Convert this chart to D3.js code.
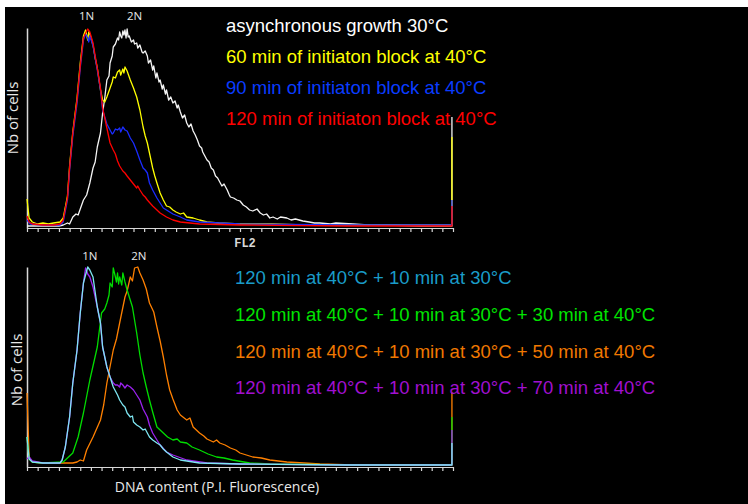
<!DOCTYPE html>
<html>
<head>
<meta charset="utf-8">
<script src="https://cdn.jsdelivr.net/npm/d3@7"></script>
<style>
  body { margin: 0; background: #fff; }
  svg { display: block; }
</style>
</head>
<body>
<div id="chart"></div>
<script>
// histogram data: [FL2 channel, nb of cells]
const asyncGrowth = [[0,2],[30,2],[34,3],[38,5],[40,4],[43,11],[46,14],[48,13],[53,28],[56,33],[59,45],[62,60],[64,66],[66,81],[69,95],[71,115],[73,130],[75,148],[77,152],[78,165],[80,172],[81,181],[83,184],[85,190],[86,188],[87,196],[88,192],[89,190],[90,197],[91,193],[92,198],[93,190],[94,199],[95,191],[96,192],[98,186],[100,188],[101,184],[103,185],[104,180],[106,183],[108,176],[109,175],[111,177],[113,172],[114,165],[116,168],[118,158],[119,162],[121,150],[122,155],[124,146],[125,148],[127,139],[128,143],[130,134],[131,138],[133,128],[135,131],[137,125],[139,127],[141,120],[142,123],[144,116],[146,110],[148,113],[150,105],[152,101],[154,104],[156,97],[158,93],[160,88],[162,82],[164,80],[165,76],[167,72],[169,68],[171,66],[173,60],[175,58],[177,52],[179,50],[181,46],[183,42],[185,44],[188,38],[190,33],[191,31],[194,30],[197,28],[200,27],[203,23],[206,21],[209,18],[212,17],[216,19],[219,15],[222,13],[225,14],[228,10],[231,11],[235,9],[238,11],[244,10],[248,8],[252,9],[259,7],[265,6],[270,5],[275,5],[285,4],[290,5],[306,4],[320,3],[338,3],[369,2],[399,2],[399,111]];
const block60 = [[0,29],[2,10],[5,6],[10,4],[15,5],[20,4],[25,5],[31,6],[34,10],[38,32],[40,62],[43,96],[47,130],[50,165],[53,192],[55,198],[56,193],[57,188],[58,196],[59,194],[62,183],[64,170],[66,160],[69,138],[71,128],[73,126],[75,131],[78,140],[80,146],[81,151],[83,150],[85,156],[87,158],[88,153],[90,159],[91,155],[92,161],[94,157],[97,148],[100,140],[103,131],[106,118],[109,101],[111,92],[113,85],[115,75],[118,60],[120,52],[122,45],[125,35],[128,28],[131,22],[134,21],[137,18],[140,16],[144,14],[147,15],[150,11],[156,10],[162,8],[169,6],[180,5],[200,4],[230,4],[260,3],[300,3],[399,3],[399,91]];
const block90 = [[0,8],[3,4],[15,3],[31,3],[34,6],[38,28],[40,58],[43,92],[47,125],[50,160],[53,188],[55,194],[57,190],[58,186],[59,192],[62,182],[66,158],[69,138],[71,118],[75,104],[78,98],[80,94],[81,95],[83,99],[85,98],[87,100],[88,96],[90,101],[92,98],[94,97],[97,90],[100,85],[103,77],[106,68],[109,60],[111,58],[113,55],[115,45],[118,38],[122,30],[125,25],[128,20],[131,18],[134,16],[137,14],[144,11],[150,8],[162,6],[200,4],[300,3],[399,3],[399,28]];
const block120 = [[0,12],[2,6],[5,4],[15,3],[25,3],[31,4],[34,8],[38,30],[40,60],[43,95],[47,128],[50,162],[53,190],[55,195],[57,199],[59,196],[62,185],[66,160],[69,140],[71,120],[75,100],[78,85],[81,78],[83,74],[85,67],[87,62],[90,57],[92,55],[94,52],[97,48],[100,44],[103,40],[104,42],[106,38],[109,33],[111,31],[113,28],[118,22],[122,18],[125,15],[131,11],[137,8],[144,6],[162,4],[200,3],[300,2],[399,2],[399,22]];

const release10 = [[0,30],[2,8],[5,5],[15,4],[31,4],[33,7],[36,20],[40,50],[43,84],[47,117],[50,154],[53,184],[56,196],[57,200],[59,197],[62,190],[66,160],[69,144],[71,120],[75,100],[78,90],[81,80],[85,72],[87,67],[90,62],[92,60],[94,54],[97,50],[99,51],[100,45],[103,42],[106,40],[109,37],[111,38],[113,34],[115,30],[118,27],[122,24],[125,22],[128,18],[131,15],[137,10],[144,7],[162,4],[200,3],[300,2],[399,2],[399,24]];
const release30 = [[0,30],[2,8],[5,5],[15,4],[34,5],[43,14],[48,30],[53,54],[59,87],[66,120],[70,154],[73,158],[75,164],[77,172],[78,184],[80,180],[81,199],[83,190],[84,185],[85,194],[86,183],[87,190],[89,182],[90,194],[92,185],[94,177],[99,160],[103,134],[106,112],[109,94],[112,80],[115,67],[118,55],[122,40],[125,37],[128,34],[132,30],[137,27],[141,28],[144,25],[150,24],[155,20],[162,17],[170,13],[178,10],[185,9],[193,7],[209,4],[228,3],[300,2],[399,2],[399,50]];
const release50 = [[0,74],[2,10],[5,5],[15,4],[43,4],[47,5],[50,7],[53,6],[56,17],[62,30],[69,47],[72,62],[75,84],[81,117],[84,128],[87,144],[92,170],[94,176],[97,190],[99,186],[101,199],[104,200],[106,194],[109,187],[112,178],[115,164],[119,155],[122,140],[125,126],[128,110],[131,92],[134,77],[137,68],[141,57],[144,52],[150,47],[153,49],[156,40],[162,34],[166,31],[169,28],[175,25],[178,27],[181,24],[186,22],[191,19],[196,17],[200,14],[206,12],[212,10],[220,9],[228,7],[236,6],[244,5],[260,4],[275,3],[306,2],[399,2],[399,75]];
const release70 = [[0,8],[2,10],[5,6],[15,4],[31,4],[33,7],[36,20],[40,50],[43,84],[47,117],[50,154],[53,184],[55,199],[57,193],[59,190],[62,180],[66,160],[69,144],[71,120],[75,100],[78,90],[81,84],[83,82],[85,82],[87,80],[88,84],[90,82],[92,79],[94,82],[97,80],[100,77],[103,72],[106,67],[109,58],[113,50],[115,42],[118,34],[122,27],[125,22],[131,15],[137,12],[150,7],[169,4],[200,3],[300,2],[399,2],[399,37]];

const topLabels = ["asynchronous growth 30°C", "60 min of initiaton block at 40°C", "90 min of initiaton block at 40°C", "120 min of initiaton block at 40°C"];
const bottomLabels = ["120 min at 40°C + 10 min at 30°C", "120 min at 40°C + 10 min at 30°C + 30 min at 40°C", "120 min at 40°C + 10 min at 30°C + 50 min at 40°C", "120 min at 40°C + 10 min at 30°C + 70 min at 40°C"];
const ploidyLabels = ["1N", "2N"];
const ploidyTop = [56, 101];
const ploidyBottom = [59, 105];

const width = 748, height = 504;

const svg = d3.select("#chart").append("svg")
    .attr("width", width)
    .attr("height", height);

svg.append("rect")
    .attr("x", 5).attr("y", 7)
    .attr("width", width - 5).attr("height", height - 7)
    .attr("fill", "#000");

const x = d3.scaleLinear().domain([0, 400]).range([27, 453]);

function drawPanel(yTop, yBase, series, lineColors, labels, textColors, legendX, legendY, ploidyX, ploidyY, yLabelPos, showFl2) {
    const y = d3.scaleLinear().domain([0, 200]).range([yBase, yTop]);

    svg.append("g")
        .attr("transform", `translate(0,${yBase})`)
        .call(d3.axisBottom(x).tickValues(d3.range(0, 401, 10)).tickFormat("").tickSize(4).tickSizeOuter(0))
        .call(g => g.selectAll("path, line").attr("stroke", "#d8d8d8").attr("stroke-width", 1.2));

    svg.append("g")
        .attr("transform", `translate(${x(0)},0)`)
        .call(d3.axisLeft(y).tickValues([]).tickSizeOuter(0))
        .call(g => g.select("path").attr("stroke", "#d8d8d8").attr("stroke-width", 1.5));

    const line = d3.line()
        .x(d => x(d[0]))
        .y(d => y(d[1]));

    series.forEach((s, i) => {
        svg.append("path")
            .datum(s)
            .attr("d", line)
            .attr("fill", "none")
            .attr("stroke", lineColors[i])
            .attr("stroke-width", 1.3)
            .attr("stroke-linejoin", "round");
    });

    labels.forEach((t, i) => {
        svg.append("text")
            .attr("x", legendX)
            .attr("y", legendY[i])
            .style("font-family", "Liberation Sans, Arial, sans-serif")
            .style("font-size", "18.5px")
            .style("fill", textColors[i])
            .text(t);
    });

    ploidyLabels.forEach((t, i) => {
        svg.append("text")
            .attr("x", x(ploidyX[i]))
            .attr("y", ploidyY)
            .attr("text-anchor", "middle")
            .style("font-family", "Open Sans, sans-serif")
            .style("font-size", "11.5px")
            .style("fill", "#e8e8e8")
            .text(t);
    });

    svg.append("text")
        .attr("transform", `translate(${yLabelPos[0]},${yLabelPos[1]}) rotate(-90)`)
        .attr("text-anchor", "middle")
        .style("font-family", "Open Sans, sans-serif")
        .style("font-size", "15px")
        .style("fill", "#e8e8e8")
        .text("Nb of cells");

    if (showFl2) {
        svg.append("text")
            .attr("x", 245)
            .attr("y", yBase + 19)
            .attr("text-anchor", "middle")
            .style("font-family", "Liberation Mono, monospace")
            .style("font-size", "12px")
            .style("font-weight", "bold")
            .style("fill", "#d8d8d8")
            .text("FL2");
    }
}

drawPanel(28, 228,
    [asyncGrowth, block60, block90, block120],
    ["#f4f4f4", "#ffff00", "#1a2cff", "#ff0000"],
    topLabels,
    ["#ffffff", "#ffff00", "#0a3cff", "#ff0000"],
    226, [32, 63, 94, 124.5],
    ploidyTop, 19.5, [18, 118], true);

drawPanel(267, 467,
    [release50, release30, release70, release10],
    ["#ff8000", "#00dd00", "#9a22ee", "#7ee6f2"],
    bottomLabels,
    ["#1a9cc8", "#00e400", "#f07800", "#a010d0"],
    235, [284, 321, 357.5, 394],
    ploidyBottom, 260, [22, 370], false);

svg.append("text")
    .attr("x", 217)
    .attr("y", 492)
    .attr("text-anchor", "middle")
    .style("font-family", "Open Sans, sans-serif")
    .style("font-size", "14px")
    .style("fill", "#e8e8e8")
    .text("DNA content (P.I. Fluorescence)");
</script>
</body>
</html>
